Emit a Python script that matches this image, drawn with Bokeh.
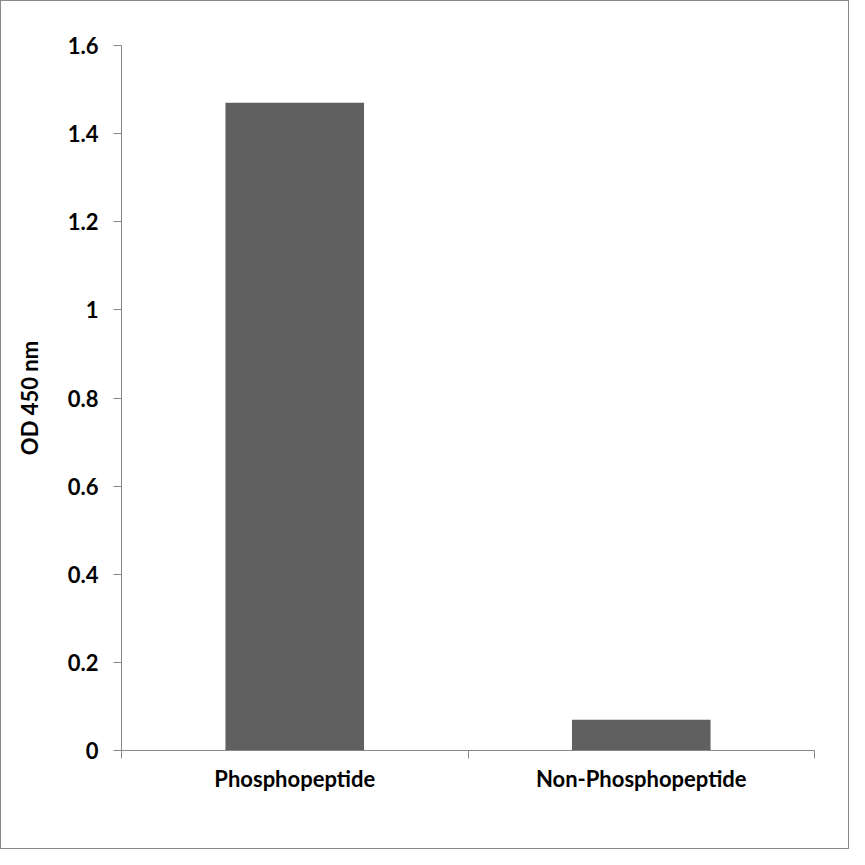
from bokeh.plotting import figure
from bokeh.models import FixedTicker, Range1d
from bokeh.embed import file_html
from bokeh.resources import INLINE

categories = ["Phosphopeptide", "Non-Phosphopeptide"]
values = [1.47, 0.07]
y_ticks = [0, 0.2, 0.4, 0.6, 0.8, 1, 1.2, 1.4, 1.6]
y_tick_labels = ["0", "0.2", "0.4", "0.6", "0.8", "1", "1.2", "1.4", "1.6"]
y_title = "OD 450 nm"

FONT = "Lato"
FS = "22px"
AX = "#868686"

x_pos = [i + 0.5 for i in range(len(categories))]
boundaries = list(range(len(categories) + 1))

p = figure(width=849, height=849, output_backend="svg", toolbar_location=None,
           x_range=Range1d(0, len(categories)), y_range=Range1d(0, 1.6),
           min_border_left=120, min_border_right=36, min_border_top=44,
           min_border_bottom=100)
p.outline_line_color = None
p.xgrid.grid_line_color = None
p.ygrid.grid_line_color = None
p.styles = {"border": "1px solid #8a8a8a"}

p.vbar(x=x_pos, top=values, bottom=0, width=0.4, fill_color="#606060", line_color=None)

# Y axis
ya = p.yaxis[0]
ya.ticker = FixedTicker(ticks=y_ticks, minor_ticks=[])
ya.major_label_overrides = dict(zip(y_ticks, y_tick_labels))
ya.axis_line_color = AX
ya.major_tick_line_color = AX
ya.major_tick_out = 8
ya.major_tick_in = 0
ya.minor_tick_line_color = None
ya.major_label_standoff = 15
ya.major_label_text_font = FONT
ya.major_label_text_font_style = "bold"
ya.major_label_text_font_size = FS
ya.major_label_text_color = "black"
ya.axis_label = y_title
ya.axis_label_text_font = FONT
ya.axis_label_text_font_style = "bold"
ya.axis_label_text_font_size = FS
ya.axis_label_text_color = "black"
ya.axis_label_standoff = 22

# X axis
xa = p.xaxis[0]
xa.ticker = FixedTicker(ticks=x_pos, minor_ticks=boundaries)
xa.major_label_overrides = dict(zip(x_pos, categories))
xa.axis_line_color = AX
xa.major_tick_line_color = None
xa.major_tick_out = 0
xa.major_tick_in = 0
xa.minor_tick_line_color = AX
xa.minor_tick_out = 8
xa.minor_tick_in = 0
xa.major_label_standoff = 6
xa.major_label_text_font = FONT
xa.major_label_text_font_style = "bold"
xa.major_label_text_font_size = FS
xa.major_label_text_color = "black"

open("out.html", "w").write(file_html(p, INLINE))
